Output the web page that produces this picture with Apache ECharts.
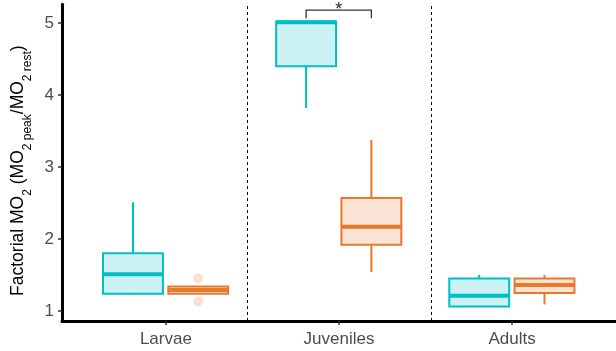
<!DOCTYPE html>
<html>
<head>
<meta charset="utf-8">
<script src="https://cdn.jsdelivr.net/npm/echarts@6/dist/echarts.min.js"></script>
<style>html,body{margin:0;padding:0;background:#fff}#c{width:616px;height:351px}</style>
</head>
<body>
<div id="c"></div>
<script>
// Categories and tick labels
var categories = ['Larvae', 'Juveniles', 'Adults'];
var yTicks = [1, 2, 3, 4, 5];
// Box stats per category: [min, q1, median, q3, max]
var tealStats = [
  [1.22, 1.24, 1.51, 1.80, 2.51],
  [3.82, 4.40, 5.01, 5.02, 5.03],
  [1.06, 1.06, 1.21, 1.45, 1.50]
];
var orangeStats = [
  [1.24, 1.24, 1.29, 1.34, 1.34],
  [1.54, 1.92, 2.17, 2.57, 3.375],
  [1.09, 1.25, 1.36, 1.45, 1.50]
];
// Outliers: [categoryIndex, value]
var orangeOutliers = [[0, 1.45], [0, 1.13]];
var dividers = [1.467, 2.529];
// Significance bracket: category index, bracket top value, leg bottom value, label
var sigBracket = [[1, 5.18, 5.065, '*']];

var TEAL = '#00BFC4', TEAL_FILL = '#CCF2F3';
var ORANGE = '#E9782A', ORANGE_FILL = '#FBE4D5';
var OFF_T = -0.19, OFF_O = 0.187, HALF = 0.173;

function boxData(stats, off) {
  return stats.map(function (s, i) { return [i + 1 + off].concat(s); });
}

function makeBoxRender(stroke, fill) {
  return function (params, api) {
    var x = api.value(0);
    var pMin = api.coord([x, api.value(1)]);
    var pQ1 = api.coord([x, api.value(2)]);
    var pMed = api.coord([x, api.value(3)]);
    var pQ3 = api.coord([x, api.value(4)]);
    var pMax = api.coord([x, api.value(5)]);
    var left = api.coord([x - HALF, 0])[0];
    var right = api.coord([x + HALF, 0])[0];
    return {
      type: 'group',
      children: [
        { type: 'line', shape: { x1: pMax[0], y1: pMax[1], x2: pQ3[0], y2: pQ3[1] }, style: { stroke: stroke, lineWidth: 2 } },
        { type: 'line', shape: { x1: pQ1[0], y1: pQ1[1], x2: pMin[0], y2: pMin[1] }, style: { stroke: stroke, lineWidth: 2 } },
        { type: 'rect', shape: { x: left, y: pQ3[1], width: right - left, height: pQ1[1] - pQ3[1] }, style: { fill: fill, stroke: stroke, lineWidth: 2 } },
        { type: 'line', shape: { x1: left, y1: pMed[1], x2: right, y2: pMed[1] }, style: { stroke: stroke, lineWidth: 4 } }
      ]
    };
  };
}

var chart = echarts.init(document.getElementById('c'), null, { renderer: 'canvas' });
chart.setOption({
  animation: false,
  grid: { left: 62, right: 0, top: 4.3, bottom: 30, containLabel: false },
  xAxis: {
    type: 'value', min: 0.4, max: 3.6,
    splitLine: { show: false },
    axisLine: { show: true, onZero: false, lineStyle: { color: '#000', width: 3 } },
    axisTick: { show: true, customValues: [1, 2, 3], length: 4, lineStyle: { color: '#333', width: 1.5 } },
    axisLabel: {
      customValues: [1, 2, 3], margin: 10, fontSize: 17, color: '#4D4D4D', fontFamily: 'Liberation Sans, Arial',
      formatter: function (v) { return categories[Math.round(v) - 1] || ''; }
    }
  },
  yAxis: {
    type: 'value', min: 0.86, max: 5.26,
    splitLine: { show: false },
    axisLine: { show: true, onZero: false, lineStyle: { color: '#000', width: 3 } },
    axisTick: { show: true, customValues: yTicks, length: 4, lineStyle: { color: '#333', width: 1.5 } },
    axisLabel: { customValues: yTicks, margin: 8, fontSize: 17, color: '#4D4D4D', fontFamily: 'Liberation Sans, Arial' },
    name: '{n|Factorial MO}{s|2}{n| (MO}{s|2 peak}{n|/MO}{s|2 rest}{n|)}',
    nameLocation: 'middle', nameGap: 25, nameRotate: 90,
    nameTextStyle: {
      fontFamily: 'Liberation Sans, Arial', color: '#000',
      padding: [0, 16, 0, 0],
      rich: {
        n: { fontSize: 17.5, lineHeight: 24, verticalAlign: 'top', fontFamily: 'Liberation Sans, Arial', color: '#000' },
        s: { fontSize: 12, lineHeight: 12, verticalAlign: 'bottom', fontFamily: 'Liberation Sans, Arial', color: '#000' }
      }
    }
  },
  series: [
    {
      type: 'custom', name: 'teal', renderItem: makeBoxRender(TEAL, TEAL_FILL),
      data: boxData(tealStats, OFF_T), encode: { x: 0, y: [1, 2, 3, 4, 5] }, z: 3,
      markLine: {
        silent: true, symbol: 'none', label: { show: false },
        lineStyle: { color: '#000', width: 1, type: [3, 3] },
        data: dividers.map(function (d) { return { xAxis: d }; })
      }
    },
    {
      type: 'custom', name: 'orange', renderItem: makeBoxRender(ORANGE, ORANGE_FILL),
      data: boxData(orangeStats, OFF_O), encode: { x: 0, y: [1, 2, 3, 4, 5] }, z: 3
    },
    {
      type: 'scatter', name: 'outliers', symbolSize: 10, z: 2,
      itemStyle: { color: 'rgba(233,120,42,0.27)' },
      data: orangeOutliers.map(function (o) { return [o[0] + 1 + OFF_O, o[1]]; })
    },
    {
      type: 'custom', name: 'sig', z: 4,
      data: sigBracket.map(function (b) { return [b[0] + 1, b[1], b[2]]; }),
      renderItem: function (params, api) {
        var c = api.value(0);
        var l = api.coord([c + OFF_T, api.value(1)]);
        var r = api.coord([c + OFF_O, api.value(1)]);
        var lb = api.coord([c + OFF_T, api.value(2)]);
        var rb = api.coord([c + OFF_O, api.value(2)]);
        return {
          type: 'group',
          children: [
            { type: 'polyline', shape: { points: [[lb[0], lb[1]], [l[0], l[1]], [r[0], r[1]], [rb[0], rb[1]]] }, style: { stroke: '#333', lineWidth: 1.3, fill: null } },
            { type: 'text', style: { x: (l[0] + r[0]) / 2, y: l[1] + 9, text: sigBracket[params.dataIndex][3], fill: '#222', fontSize: 18, fontFamily: 'Liberation Sans, Arial', align: 'center', verticalAlign: 'bottom' } }
          ]
        };
      }
    }
  ]
});
</script>
</body>
</html>
